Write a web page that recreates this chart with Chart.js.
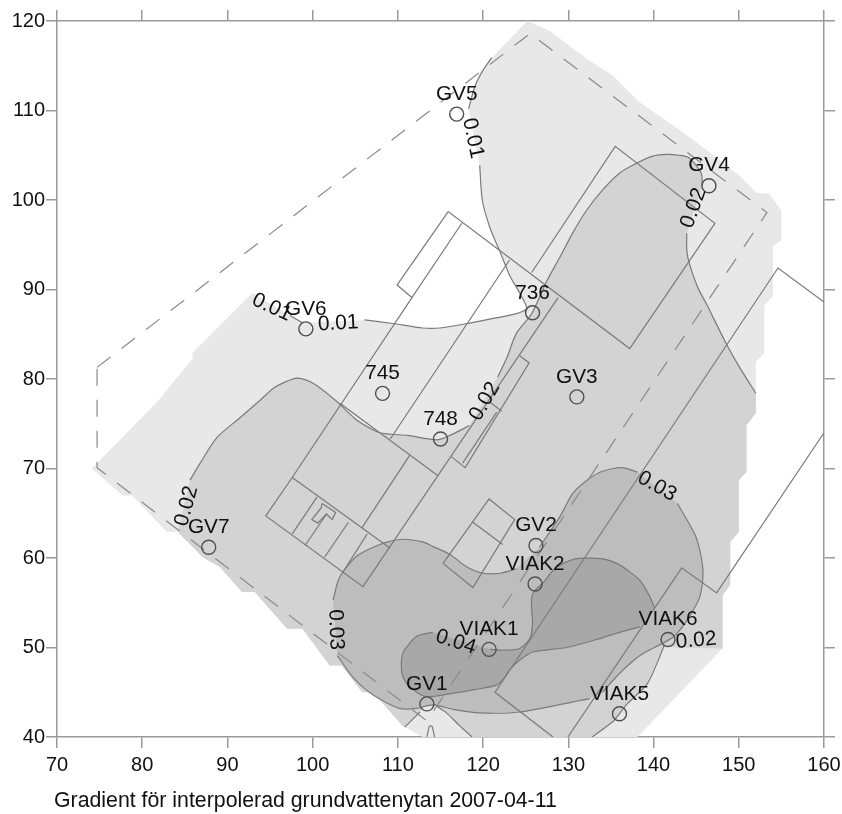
<!DOCTYPE html>
<html>
<head>
<meta charset="utf-8">
<script src="https://cdn.jsdelivr.net/npm/chart.js@4/dist/chart.umd.js"></script>
<style>
  html, body { margin: 0; background: #fff; }
  canvas { display: block; filter: blur(0.4px); }
</style>
</head>
<body>
<canvas id="gradient" width="842" height="814"></canvas>
<script>
// observation wells
var wellNames = ['GV5', 'GV4', '736', 'GV3', 'GV6', '745', '748', 'GV7', 'GV2', 'VIAK2', 'VIAK1', 'VIAK6', 'VIAK5', 'GV1'];
var wellX = [116.9, 146.5, 125.8, 131, 99.2, 108.2, 115, 87.8, 126.2, 126.1, 120.7, 141.7, 136, 113.4];
var wellY = [109.6, 101.6, 87.4, 78, 85.6, 78.4, 73.3, 61.2, 61.4, 57.1, 49.8, 50.9, 42.6, 43.7];

// contour labels: text, x, y, rotation in degrees
var levelText = ['0.01', '0.01', '0.01', '0.02', '0.02', '0.02', '0.03', '0.03', '0.04', '0.02'];
var levelX = [95.2, 103, 118.8, 144.7, 120.2, 85.2, 102.7, 140.4, 116.8, 145];
var levelY = [88, 86.2, 106.9, 99.1, 77.5, 65.8, 52, 68, 50.6, 50.8];
var levelAngle = [25, -3, 78, -70, -60, -75, 88, 30, 18, -5];

// edge of the interpolated grid
var edgeRight = [[125.2,120],[127.8,118.9],[132.1,115.8],[135.2,113.9],[138.4,110.9],[143.1,107.8],[145.8,105.9],[150.1,102.7],[152.1,100.8],[153.6,100.7],[155,98.8],[155,95.5],[154,94.9],[154,89.3],[153,88.2],[153,82.9],[152,81.9]];
var edgeRightLow = [[152,76.2],[150.9,74.8],[150.9,69.6],[150,68.7],[150,62.9],[149,61.8],[149,57],[148.1,55.8],[148.1,49.9]];
var edgeBottom = [[138.1,40],[112.9,40]];
var edgeLow = [[110.5,41.3],[107.1,45],[105.8,45],[103.4,48],[102,48],[98.8,52.1],[97,52.1],[93.2,56.2],[91.7,56.2],[89.1,59],[87.1,60.1],[84.2,62.9]];
var edgeWest = [[82.9,62.9],[78.8,67],[77.7,67],[74.1,70],[81.9,77.6],[85.9,82.3],[85.9,82.9],[92.9,89.6]];

// contour lines, split where a label sits on them
var c01a = [[97.35,87.1],[98.75,86.3]];
var c01b = [[106.1,86.6],[109.4,86.2],[112.9,85.7],[114.9,85.7],[118.1,86.2],[123.9,87.3],[125.1,87.9],[124.3,89.6],[123.1,91.6],[121.9,94.4],[120.8,96.9],[119.9,100],[119.6,103.9]];
var c01c = [[118.3,110.2],[119,112.6],[119.8,114.2],[121,115.9]];
var c02a = [[85.6,68.7],[86.8,70.6],[88.8,73.5],[91.5,75.7],[93.8,77.6],[95.6,79.1],[98.2,80.1],[100.1,79.5],[102.7,77.6],[105.2,75.4],[107.9,74],[111.1,73.7],[114.6,73.2],[116.1,73.7],[118.4,74.8]];
var c02b = [[121.7,80.2],[122.8,82.4],[123.9,85.1],[125.7,87.3],[127.5,91],[129,93.6],[130.5,96.3],[132.1,98.8],[134,101.1],[136,103],[138,104.1],[139.9,104.9],[141.5,105.1],[143,105],[144.2,104.7],[145.6,103],[145.7,101.6]];
var c02c = [[143.9,96.3],[143.9,94.4],[144.2,92.9],[145.2,90.2],[146.2,88.4],[148.5,84],[150.1,81.3],[152,78.4]];
var c02d = [[141.3,50.3],[139.3,46],[136.8,43.6],[136,42.6],[135.2,41.7],[132.8,40]];
var c02e = [[118.7,40],[117.2,41.3],[115.7,42.7],[114.3,43.6]];
var c02f = [[112.6,42.8],[110.8,41.1]];
var c02g = [[113.4,40],[113.7,41.2],[114,41.2],[114.3,40]];
var c03a = [[102.4,55.3],[103,57.5],[104,59],[105.3,60.3],[107.1,61.2],[108.8,61.8],[110.6,62.1],[112.9,61.8],[114.1,61.3],[116.1,60.4],[118.1,59],[120,58.3],[122,58.3],[123.9,58.8]];
var c03b = [[126.6,61.2],[129,64.6],[130.5,67.2],[132.2,68.7],[134,69.7],[136.3,70.1],[138.1,69.6]];
var c03c = [[142.8,66.1],[145,62.3],[145.8,58.6],[145.4,55.6],[143.9,53],[142.5,51.3],[141.7,50.8],[140.7,50.3],[138.4,49.1],[136,47.1],[134,45]];
var c03d = [[132.5,44.3],[124.3,42.8],[119.6,42.7],[116.5,43.1],[114.1,43.6],[112.2,43.2],[110.2,43.2],[107.1,44.7],[104.7,46.7],[102.9,49.1]];
var c04a = [[114.1,51.7],[112.3,51.3],[111.4,50.5],[110.6,49.4],[110.4,48],[110.6,46.7],[111.4,45.6],[113.4,44.5],[116.5,44.9],[119,45.3],[121.6,45.8],[122.5,46.6],[123.1,47.5],[124.3,48.6],[125.8,49.5],[129.8,50],[133.7,51],[136,51.7],[138.4,52.3]];
var c04b = [[140.1,54.5],[139.5,55.8],[138.4,57.5],[137,58.6],[135.7,59.4],[134.1,59.9],[132.1,60],[130.8,59.9],[129.4,59.4],[128.1,58.5],[127.1,57.3],[126.1,56.4],[125.7,55.6],[125.7,54.2],[125.8,52.7],[125.5,51],[124.3,49.9],[122.6,49.7],[120.8,49.8]];

// buildings and the dashed site boundary
var buildings = [
  [[109.9,90.5],[115.9,98.7],[137.2,83.4],[147.2,97.4],[135.5,106],[125.7,91.9]],
  [[109.9,90.5],[111.65,89.1],[117.5,97.4]],
  [[111.65,89.1],[97.6,69],[94.5,64.7],[105.9,56.8],[128.8,89.1]],
  [[103.2,77.3],[114.7,69.2]],
  [[123.1,93.3],[109.1,73.3]],
  [[111.4,71.5],[105.8,63.4]],
  [[97.6,69],[109.1,61.1]],
  [[100.5,66.8],[97.6,62.7]],
  [[101.7,65],[99.1,61.4]],
  [[104.2,64],[101.4,60.1]],
  [[106.4,62.7],[103.6,58.5]],
  [[101.1,66.1],[102.7,65.1],[102.3,64.3],[101.6,64.9],[100.6,63.9],[99.9,64.3],[101,65.6],[101.1,66.1]],
  [[124.3,82.6],[125.4,81.8],[117.9,70.1],[116.3,71.3]],
  [[117.6,70.6],[121.6,76.3]],
  [[120.8,77.4],[122.2,76.4]],
  [[115.3,59.4],[118.8,56.7],[123.7,64.3],[120.7,66.6],[115.3,59.4]],
  [[118.8,64],[122.3,61.5]],
  [[160,88.6],[154.6,92.4],[121.4,45],[128.2,40]],
  [[160,74],[147.4,56.1],[143.3,58.9],[129.95,40]]
];
var siteBoundary = [[74.7,81.3],[125.5,118.6],[153.3,98.6],[113.4,41.8],[74.7,70.1],[74.7,81.3]];

var xTicksMin = 70, xTicksMax = 160, yTicksMin = 40, yTicksMax = 120;
var captionText = 'Gradient för interpolerad grundvattenytan 2007-04-11';
var fontName = '"Liberation Sans", Arial, sans-serif';

var zone01 = [].concat(edgeRight, edgeRightLow, edgeBottom, edgeLow, edgeWest, c01a, c01b, c01c);
var zone02 = [].concat(c02a, c02b, c02c, edgeRightLow, [[142.5,50]], c02d, c02e, [[113.4,43.7]], c02f, edgeLow);
var zone03 = [].concat(c03a, c03b, c03c, c03d);
var zone04 = [].concat(c04a, c04b);

function toPoints(list) {
  return list.map(function (p) { return { x: p[0], y: p[1] }; });
}

function fillSet(list, color) {
  return { data: toPoints(list), showLine: true, fill: 'shape', backgroundColor: color, borderWidth: 0, pointRadius: 0 };
}

function lineSet(list, color, width, tension, dash) {
  return { data: toPoints(list), showLine: true, fill: false, borderColor: color, borderWidth: width, tension: tension, borderDash: dash || [], pointRadius: 0 };
}

var contourLines = [c01a, c01b, c01c, c02a, c02b, c02c, c02d, c02e, c02f, c02g, c03a, c03b, c03c, c03d, c04a, c04b];

// first dataset ends up on top
var sets = [];
sets.push({
  data: wellX.map(function (x, i) { return { x: x, y: wellY[i] }; }),
  showLine: false, pointRadius: 7, pointHoverRadius: 7, pointBorderColor: '#4f4f4f', pointBorderWidth: 1.4, pointBackgroundColor: 'rgba(0,0,0,0)'
});
sets.push(lineSet(siteBoundary, '#8a8a8a', 1.2, 0, [17, 14]));
buildings.forEach(function (b) { sets.push(lineSet(b, '#7a7a7a', 1.2, 0)); });
contourLines.forEach(function (c) { sets.push(lineSet(c, '#7a7a7a', 1.2, 0.25)); });
sets.push(fillSet(zone04, '#a8a8a8'));
sets.push(fillSet(zone03, '#bdbdbd'));
sets.push(fillSet(zone02, '#d3d3d3'));
sets.push(fillSet(zone01, '#e8e8e8'));

var mapLabels = {
  id: 'mapLabels',
  afterLayout: function (chart) {
    // caption starts a little left of the plot frame
    chart.titleBlock.left = 54;
  },
  afterDatasetsDraw: function (chart) {
    var ctx = chart.ctx, sx = chart.scales.x, sy = chart.scales.y;
    ctx.save();
    ctx.fillStyle = '#111';
    ctx.textAlign = 'center';
    ctx.textBaseline = 'middle';
    ctx.font = '20.8px ' + fontName;
    wellNames.forEach(function (name, i) {
      ctx.fillText(name, sx.getPixelForValue(wellX[i]), sy.getPixelForValue(wellY[i]) - 20);
    });
    ctx.font = '21px ' + fontName;
    levelText.forEach(function (t, i) {
      ctx.save();
      ctx.translate(sx.getPixelForValue(levelX[i]), sy.getPixelForValue(levelY[i]));
      ctx.rotate(levelAngle[i] * Math.PI / 180);
      ctx.fillText(t, 0, 0);
      ctx.restore();
    });
    ctx.restore();
  }
};

function axisOpts(position, min, max, size, showLabels) {
  var horizontal = position === 'top' || position === 'bottom';
  return {
    type: 'linear',
    position: position,
    min: min,
    max: max,
    afterFit: function (scale) {
      if (horizontal) scale.height = size; else scale.width = size;
      scale.paddingLeft = scale.paddingRight = scale.paddingTop = scale.paddingBottom = 0;
    },
    border: { color: '#9a9a9a', width: 1.5 },
    grid: { drawOnChartArea: false, color: '#9a9a9a', lineWidth: 1.5, tickLength: 11 },
    ticks: {
      display: showLabels,
      stepSize: 10,
      autoSkip: false,
      maxRotation: 0,
      padding: horizontal ? 5 : 1,
      color: '#111',
      font: { family: fontName, size: 20 }
    }
  };
}

new Chart(document.getElementById('gradient'), {
  type: 'scatter',
  data: { datasets: sets },
  options: {
    responsive: false,
    animation: false,
    scales: {
      x: axisOpts('bottom', xTicksMin, xTicksMax, 51.4, true),
      y: axisOpts('left', yTicksMin, yTicksMax, 57, true),
      x2: axisOpts('top', xTicksMin, xTicksMax, 21, false),
      y2: axisOpts('right', yTicksMin, yTicksMax, 18, false)
    },
    plugins: {
      legend: { display: false },
      tooltip: { enabled: false },
      title: {
        display: true,
        text: captionText,
        position: 'bottom',
        align: 'start',
        fullSize: false,
        padding: 0,
        color: '#111',
        font: { family: fontName, size: 21.3, weight: 'normal' }
      }
    }
  },
  plugins: [mapLabels]
});
</script>
</body>
</html>
